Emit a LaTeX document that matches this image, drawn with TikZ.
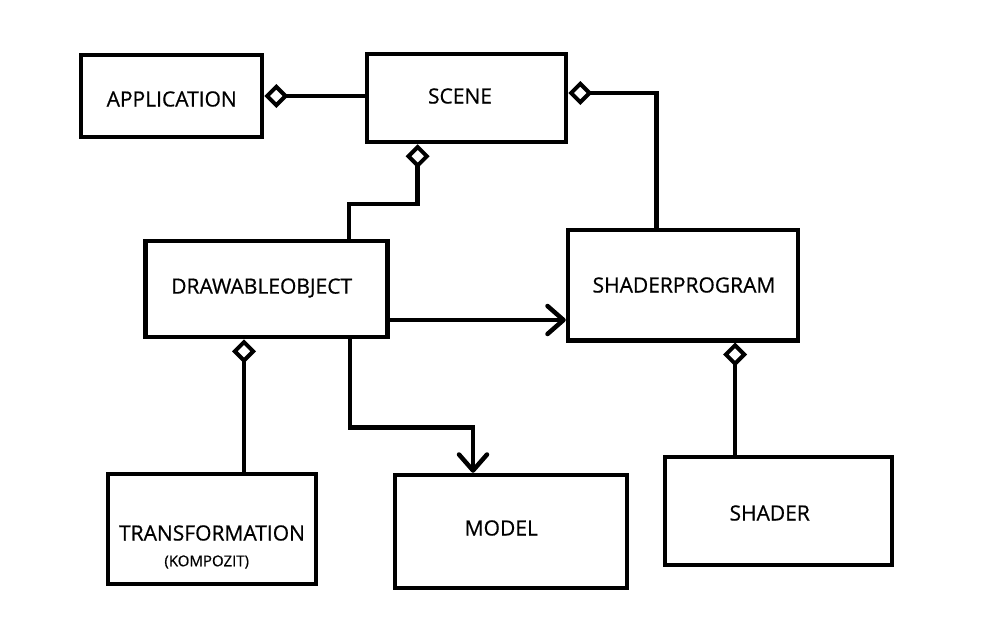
\documentclass[tikz,border=0pt]{standalone}
\usepackage{fontspec}
\setmainfont{Open Sans}[FakeBold=0.6]
\usetikzlibrary{arrows.meta}
\begin{document}
\begin{tikzpicture}[x=1pt,y=-1pt,
  box/.style={draw, line width=4.5pt, inner sep=0pt},
  lbl/.style={inner sep=0pt, font=\fontsize{21}{25}\selectfont},
  small/.style={inner sep=0pt, font=\fontsize{15}{18}\selectfont},
  conn/.style={line width=4.5pt},
  agg/.style={conn, -{Diamond[open, length=24pt, width=24pt, line width=4pt]}},
  arr/.style={conn, -{Straight Barb[length=16pt, width=28pt, round]}}]
\useasboundingbox (0,0) rectangle (1001,624);
% boxes
\node[box, minimum width=181pt, minimum height=82pt] (app) at (171.5,96) {};
\node[box, minimum width=199pt, minimum height=88pt] (scene) at (466.5,98) {};
\node[box, minimum width=242pt, minimum height=96pt] (do) at (266.6,289) {};
\node[box, minimum width=230pt, minimum height=110.5pt] (sp) at (683,285) {};
\node[box, minimum width=208pt, minimum height=110pt] (trans) at (212,529) {};
\node[box, minimum width=232pt, minimum height=113pt] (model) at (511,531.5) {};
\node[box, minimum width=227pt, minimum height=108pt] (shader) at (778.5,511) {};
% labels
\node[lbl] (appT) at (171.7,99) {APPLICATION};
\node[lbl] (sceneT) at (460,96) {SCENE};
\node[lbl] (doT) at (261.7,288) {DRAWABLEOBJECT};
\node[lbl] (spT) at (684,285) {SHADERPROGRAM};
\node[lbl] (transT) at (212,533) {TRANSFORMATION};
\node[small] (transS) at (206.7,562) {(KOMPOZIT)};
\node[lbl] (modelT) at (501.3,528) {MODEL};
\node[lbl] (shaderT) at (769.7,513) {SHADER};
% connectors
\draw[agg] (scene.west |- app.east) -- (app.east);
\draw[agg] ([xshift=-26.3pt]sp.north) |- ([yshift=5pt]scene.east);
\draw[agg] ([xshift=82.4pt]do.north) -- ++(0,-35) -| ([xshift=-48.8pt]scene.south);
\draw[arr] ([yshift=-31pt]do.east) -- ([yshift=-31pt]do.east -| sp.west);
\draw[agg] ([xshift=32pt]trans.north) -- ([xshift=32pt]trans.north |- do.south);
\draw[arr] ([xshift=83.4pt]do.south) -- ++(0,88) -| ([xshift=-38pt]model.north);
\draw[agg] ([xshift=-43.5pt]shader.north) -- ([xshift=-43.5pt]shader.north |- sp.south);
\end{tikzpicture}
\end{document}
